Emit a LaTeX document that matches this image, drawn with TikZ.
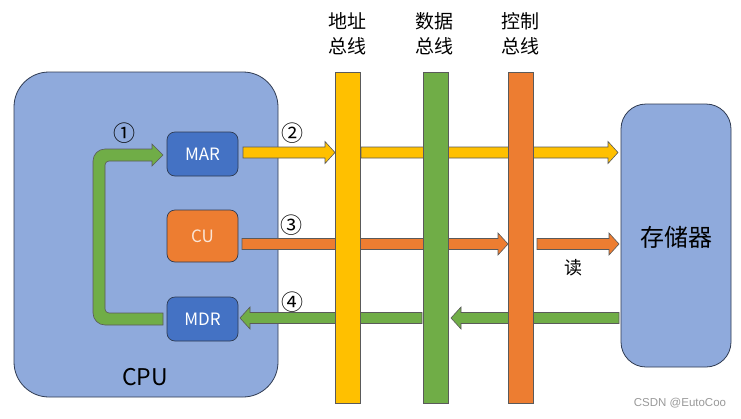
\documentclass[tikz,border=0pt]{standalone}
\usepackage{fontspec}
\setmainfont{Noto Sans CJK SC}
\newfontfamily\wmfont{Liberation Sans}
\usetikzlibrary{calc}
\definecolor{cpublue}{HTML}{8FAADC}
\definecolor{regblue}{HTML}{4472C4}
\definecolor{cuorange}{HTML}{ED7D31}
\definecolor{busyellow}{HTML}{FFC000}
\definecolor{busgreen}{HTML}{70AD47}
\definecolor{edgec}{HTML}{2F3B52}
\definecolor{arrowedge}{HTML}{5A5A5A}
\definecolor{cutext}{HTML}{FBE5D6}
% block arrow between two named coordinates; #4 = 1 (right) or -1 (left)
\newcommand\blockarrow[4]{%
  \draw[barrow, fill=#1] let \p1=(#2), \p2=(#3) in
    (\x1,\y1+5.5pt) -- (\x2-#4*10pt,\y1+5.5pt) -- (\x2-#4*10pt,\y1+11pt) --
    (\x2,\y1) -- (\x2-#4*10pt,\y1-11pt) -- (\x2-#4*10pt,\y1-5.5pt) --
    (\x1,\y1-5.5pt) -- cycle;}
\begin{document}
\begin{tikzpicture}[x=1pt,y=-1pt,
  barrow/.style={draw=arrowedge, line width=0.6pt},
  bigbox/.style={draw=edgec, line width=0.8pt, fill=cpublue, inner sep=0pt},
  reg/.style={draw=edgec, line width=0.7pt, rounded corners=8pt, minimum width=71pt,
    minimum height=44pt, inner sep=0pt, font=\fontsize{17}{20}\selectfont},
  bus/.style={draw=arrowedge, line width=0.7pt, minimum width=25pt, minimum height=331pt, inner sep=0pt},
  num/.style={font=\fontsize{22}{24}\selectfont, inner sep=0pt},
  buslbl/.style={font=\fontsize{19}{25}\selectfont, align=center, inner sep=0pt},
  plain/.style={inner sep=0pt}]
\useasboundingbox (0,0) rectangle (741,418);
\fill[white] (0,0) rectangle (741,418);

% CPU
\node[bigbox, rounded corners=35pt, minimum width=264pt, minimum height=325pt] (cpu) at (146,234.5) {};
\node[plain, font=\fontsize{23}{26}\selectfont] (cpulbl) at (145,377) {CPU};

% registers
\node[reg, fill=regblue, text=white] (mar) at (202.5,154) {MAR};
\node[reg, fill=cuorange, text=cutext, minimum height=52pt] (cu) at (202.5,236) {CU};
\node[reg, fill=regblue, text=white] (mdr) at (202.5,319) {MDR};

% memory
\node[bigbox, rounded corners=25pt, minimum width=110pt, minimum height=263pt] (mem) at (676,235.5) {};
\node[plain, font=\fontsize{24}{28}\selectfont] (memlbl) at (676,237) {存储器};

% arrow end points
\coordinate (a1s) at (243,152.5); \coordinate (a1e) at (335,152.5);
\coordinate (a2s) at (361,152.5); \coordinate (a2e) at (618,152.5);
\coordinate (a3s) at (242,244);   \coordinate (a3e) at (508,244);
\coordinate (a4s) at (537,244);   \coordinate (a4e) at (619,244);
\coordinate (a5s) at (619,318);   \coordinate (a5e) at (451,318);
\coordinate (a6s) at (422,318);   \coordinate (a6e) at (240,318);

\blockarrow{busyellow}{a1s}{a1e}{1}
\blockarrow{busyellow}{a2s}{a2e}{1}
\blockarrow{cuorange}{a3s}{a3e}{1}
\blockarrow{cuorange}{a4s}{a4e}{1}
\blockarrow{busgreen}{a5s}{a5e}{-1}
\blockarrow{busgreen}{a6s}{a6e}{-1}

% MDR -> MAR loop arrow
\draw[barrow, fill=busgreen]
  (163,313) [rounded corners=4pt] -- (105,313) -- (105,161) [sharp corners] -- (152,161)
  -- (152,166) -- (163,155) -- (152,144) -- (152,149) [rounded corners=12pt] -- (93,149)
  -- (93,325) [sharp corners] -- (163,325) -- cycle;

% buses
\node[bus, fill=busyellow] (abus) at (347.5,237.5) {};
\node[bus, fill=busgreen]  (dbus) at (435.5,237.5) {};
\node[bus, fill=cuorange]  (cbus) at (520.5,237.5) {};
\node[buslbl] (abuslbl) at (347,34) {地址\\总线};
\node[buslbl] (dbuslbl) at (434,34) {数据\\总线};
\node[buslbl] (cbuslbl) at (520,34) {控制\\总线};

% numbers and labels
\node[num] (n1) at (124,133) {①};
\node[num] (n2) at (292,133) {②};
\node[num] (n3) at (291,225) {③};
\node[num] (n4) at (292,302) {④};
\node[plain, font=\fontsize{18}{20}\selectfont] (read) at (573,268) {读};

\node[plain, text=black!40, font=\wmfont\fontsize{11.5}{12}\selectfont] (wm) at (680,403) {CSDN @EutoCoo};
\end{tikzpicture}
\end{document}
